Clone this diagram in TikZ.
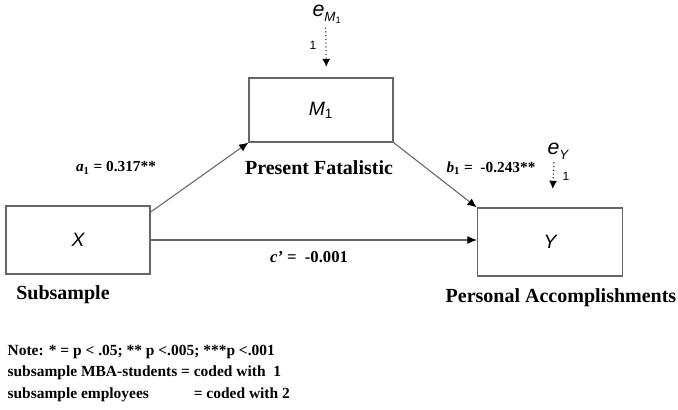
\documentclass[tikz,border=0pt]{standalone}
\usepackage{fontspec}
\setmainfont{Liberation Serif}
\setsansfont{Liberation Sans}
\usetikzlibrary{arrows.meta,calc}

\begin{document}
\begin{tikzpicture}
		[x=0.75pt,y=-0.75pt,
		every node/.style={inner sep=1pt},
		varbox/.style={draw=gray!80!black,thick,minimum width=108pt,minimum height=51pt,
			font=\sffamily\itshape\fontsize{14.5}{16}\selectfont},
		pathlbl/.style={font=\bfseries\fontsize{11.5}{13}\selectfont},
		namelbl/.style={font=\bfseries\fontsize{15}{17}\selectfont},
		notelbl/.style={font=\bfseries\fontsize{11.6}{13}\selectfont,anchor=west},
		errlbl/.style={font=\sffamily\itshape\fontsize{16}{17}\selectfont},
		arr/.style={draw=gray!80!black,thick,-{Latex[black,length=7pt,width=6pt]}},
		errarr/.style={thick,dotted,-{Latex[length=6pt,width=6pt]}}]
		\useasboundingbox (0,0) rectangle (678,410);
		% variables
		\node[varbox] (x) at (78,240) {X};
		\node[varbox,minimum height=48pt] (m) at (321,110) {M\textsubscript{\upshape 1}};
		\node[varbox,minimum width=109pt] (y) at (550,242) {Y};
		\coordinate (xtop) at ([yshift=-5pt]x.north east);
		% errors
		\node[errlbl] (em) at (327,14) {e\raisebox{-4pt}{\fontsize{10}{10}\selectfont M\textsubscript{\upshape 1}}};
		\node[errlbl] (ey) at (558,151) {e\raisebox{-4pt}{\fontsize{10}{10}\selectfont Y}};
		\node[font=\sffamily\fontsize{9}{10}\selectfont] at (313,45) {1};
		\node[font=\sffamily\fontsize{9}{10}\selectfont] at (566,176) {1};
		\draw[errarr] ([xshift=-1pt,yshift=-2pt]em.south) -- ([xshift=4pt,yshift=8pt]m.north);
		\draw[errarr] ([xshift=-3pt,yshift=-1pt]ey.south) -- ([xshift=2pt,yshift=14pt]y.north);
		% paths
		\path
		\foreach \startNode/\endNode in {xtop/m.south west, m.south east/y.north west}
		{
			(\startNode) edge[arr] (\endNode)
		};
		\draw[arr] (x.east) -- (x.east -| y.west);
		% labels
		\node[pathlbl] (a) at (116,168) {\textit{a}\textsubscript{1} = 0.317**};
		\node[pathlbl] (b) at (491,168) {\textit{b}\textsubscript{1} = \ -0.243**};
		\node[pathlbl,font=\bfseries\fontsize{12.5}{14}\selectfont] (c) at (309,257) {\textit{c'} = \ -0.001};
		\node[namelbl] (pf) at (319,168) {Present Fatalistic};
		\node[namelbl] (sub) at (63,295) {Subsample};
		\node[namelbl] (pa) at (561,298) {Personal Accomplishments};
		% note
		\node[notelbl] (n1) at (6,352) {Note: * = p < .05; ** p <.005; ***p <.001};
		\node[notelbl] (n2) at (6,373) {subsample MBA-students = coded with \ 1};
		\node[notelbl] (n3) at (6,395) {subsample employees \hspace{2.4em} = coded with 2};
\end{tikzpicture}
\end{document}
